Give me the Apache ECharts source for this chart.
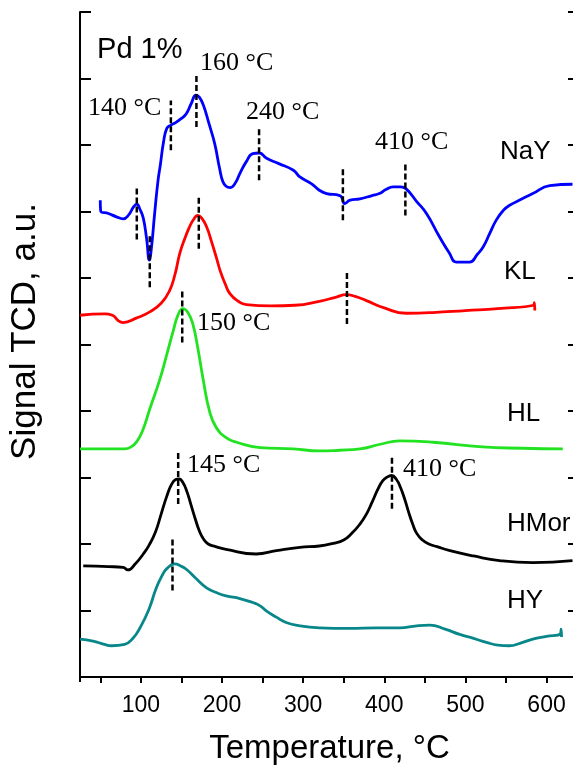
<!DOCTYPE html>
<html>
<head>
<meta charset="utf-8">
<script src="https://cdn.jsdelivr.net/npm/echarts@6/dist/echarts.min.js"></script>
<style>
  html, body { margin: 0; padding: 0; background: #fff; }
  #chart { width: 573px; height: 769px; }
</style>
</head>
<body>
<div id="chart"></div>
<script>
// TPR curves, [temperature °C, offset signal a.u.]
const nay = [[50, 7.17], [50.5, 7.01], [60, 6.97], [70, 6.92], [78, 6.89], [85, 6.95], [91, 7.07], [95, 7.11], [99, 7.03], [103, 6.9], [107, 6.6], [110.5, 6.27], [113, 6.45], [117, 6.97], [121, 7.45], [124, 7.7], [128, 8.05], [132, 8.25], [137, 8.3], [142, 8.33], [150, 8.4], [156, 8.47], [162, 8.62], [168, 8.75], [172, 8.72], [177, 8.6], [184, 8.32], [191, 8.02], [197, 7.65], [201, 7.45], [205, 7.38], [210, 7.36], [216, 7.42], [222, 7.57], [230, 7.75], [238, 7.87], [246, 7.88], [255, 7.8], [270, 7.72], [288, 7.62], [296, 7.52], [310, 7.42], [320, 7.32], [329, 7.27], [345, 7.24], [348, 7.2], [351, 7.12], [358, 7.17], [370, 7.19], [385, 7.24], [394, 7.27], [402, 7.33], [411, 7.37], [420, 7.37], [427, 7.34], [440, 7.15], [452, 6.97], [468, 6.62], [480, 6.38], [489, 6.24], [505, 6.24], [515, 6.36], [522, 6.47], [530, 6.67], [538, 6.87], [547, 7.02], [554, 7.09], [570, 7.19], [583, 7.27], [604, 7.39], [632, 7.41]]
const kl = [[25, 5.44], [55, 5.46], [65, 5.44], [72, 5.36], [78, 5.33], [95, 5.4], [111, 5.49], [125, 5.62], [135, 5.8], [142, 6.05], [148, 6.37], [155, 6.62], [160, 6.77], [165, 6.88], [170, 6.94], [175, 6.9], [181, 6.77], [187, 6.55], [193, 6.31], [198, 6.1], [204, 5.91], [210, 5.76], [220, 5.65], [230, 5.6], [260, 5.58], [290, 5.59], [320, 5.65], [340, 5.71], [353, 5.75], [365, 5.72], [378, 5.66], [400, 5.55], [427, 5.47], [460, 5.48], [500, 5.51], [540, 5.54], [584, 5.59], [585, 5.63], [585.5, 5.51]]
const hl = [[25, 3.43], [60, 3.43], [80, 3.43], [88, 3.46], [95, 3.54], [102, 3.7], [111, 4.03], [123, 4.46], [132, 4.85], [140, 5.21], [146, 5.45], [152, 5.54], [158, 5.48], [164, 5.31], [170, 4.96], [177, 4.46], [185, 3.98], [193, 3.75], [205, 3.6], [218, 3.53], [247, 3.45], [288, 3.43], [320, 3.4], [345, 3.41], [370, 3.43], [395, 3.5], [419, 3.55], [460, 3.53], [521, 3.46], [570, 3.44], [620, 3.43]]
const hmor = [[29, 1.67], [60, 1.66], [78, 1.65], [84, 1.61], [93, 1.7], [103, 1.85], [110, 1.98], [118, 2.18], [125, 2.45], [132, 2.72], [138, 2.9], [143, 2.97], [147, 2.98], [152, 2.92], [157, 2.78], [162, 2.58], [167, 2.38], [172, 2.2], [177, 2.08], [183, 2.0], [192, 1.96], [205, 1.92], [242, 1.85], [267, 1.9], [296, 1.95], [320, 1.97], [337, 2.01], [350, 2.06], [360, 2.16], [370, 2.3], [378, 2.45], [385, 2.63], [392, 2.82], [398, 2.95], [404, 3.01], [409, 3.03], [415, 2.97], [420, 2.85], [425, 2.68], [430, 2.48], [435, 2.3], [440, 2.16], [447, 2.06], [455, 2.0], [465, 1.96], [481, 1.9], [510, 1.82], [542, 1.75], [583, 1.72], [632, 1.75]]
const hy = [[25, 0.57], [41, 0.54], [55, 0.49], [64, 0.47], [80, 0.49], [90, 0.58], [99, 0.74], [110, 1.02], [119, 1.34], [126, 1.52], [132, 1.63], [142, 1.7], [149, 1.67], [156, 1.62], [168, 1.48], [181, 1.34], [193, 1.27], [205, 1.22], [222, 1.18], [238, 1.12], [247, 1.07], [255, 0.99], [267, 0.9], [279, 0.82], [296, 0.77], [320, 0.74], [357, 0.73], [390, 0.74], [419, 0.74], [440, 0.77], [456, 0.78], [475, 0.72], [493, 0.64], [510, 0.58], [526, 0.52], [540, 0.48], [554, 0.47], [568, 0.51], [583, 0.57], [600, 0.61], [617, 0.65], [618, 0.72], [618.5, 0.6]]

// dashed peak markers: [temperature, bottom, top]
const peakMarks = [[137, 7.92, 8.67], [168.5, 8.27, 9.05], [245.7, 7.47, 8.25], [95, 6.58, 7.36], [111, 5.86, 6.64], [171.4, 6.44, 7.21], [349, 6.87, 7.67], [426, 6.94, 7.73], [354, 5.31, 6.1], [151, 5.03, 5.82], [146, 2.6, 3.38], [409.5, 2.53, 3.33], [139, 1.3, 2.1]]

// peak temperature labels: [text, temperature, level]
const peakTexts = [['140 °C', 35, 8.55], ['160 °C', 173, 9.23], ['240 °C', 229.6, 8.49], ['410 °C', 388.6, 8.04], ['150 °C', 169.2, 5.32], ['145 °C', 156.9, 3.18], ['410 °C', 423.1, 3.13]]
// sample names
const sampleNames = [['NaY', 542.6, 7.89], ['KL', 547.5, 6.1], ['HL', 551.2, 3.96], ['HMor', 551.2, 2.3], ['HY', 551.2, 1.14]]
const titleText = [['Pd 1%', 46, 9.43]]

const curves = [
  { name: 'NaY', data: nay, color: '#0000ff' },
  { name: 'KL', data: kl, color: '#ff0000' },
  { name: 'HL', data: hl, color: '#22e322' },
  { name: 'HMor', data: hmor, color: '#000000' },
  { name: 'HY', data: hy, color: '#08878a' }
]

const chart = echarts.init(document.getElementById('chart'))

const series = []
curves.forEach(function(c) {
  series.push({
    name: c.name,
    type: 'line',
    data: c.data,
    smooth: 0.5,
    symbol: 'none',
    lineStyle: { color: c.color, width: 2.8 },
    z: 2
  })
})
peakMarks.forEach(function(m) {
  series.push({
    type: 'line',
    data: [[m[0], m[1]], [m[0], m[2]]],
    symbol: 'none',
    lineStyle: { color: '#000', width: 2.5, type: [6, 3] },
    z: 3
  })
})
function textSeries(items, family, size) {
  return {
    type: 'scatter',
    symbolSize: 0,
    itemStyle: { opacity: 1 },
    data: items.map(function(t) { return { value: [t[1], t[2]], name: t[0] } }),
    label: {
      show: true,
      position: 'right',
      distance: 0,
      formatter: '{b}',
      fontFamily: family,
      fontSize: size,
      color: '#000'
    },
    z: 4
  }
}
series.push(textSeries(peakTexts, 'Liberation Serif', 26))
series.push(textSeries(sampleNames, 'Liberation Sans', 26))
series.push(textSeries(titleText, 'Liberation Sans', 29))

const xCommon = {
  type: 'value',
  min: 25,
  max: 640,
  splitNumber: 12,
  splitLine: { show: false },
  axisLine: { lineStyle: { color: '#000', width: 2 } }
}
const yCommon = {
  type: 'value',
  min: 0,
  max: 10,
  interval: 1,
  splitLine: { show: false },
  axisLabel: { show: false },
  axisLine: { lineStyle: { color: '#000', width: 2 } },
  axisTick: { inside: true, length: 11, lineStyle: { color: '#000', width: 2 } }
}

chart.setOption({
  animation: false,
  backgroundColor: '#fff',
  grid: { left: 80, top: 12, width: 499, height: 665, outerBoundsMode: 'none' },
  xAxis: [
    Object.assign({}, xCommon, {
      position: 'bottom',
      name: 'Temperature, °C',
      nameLocation: 'middle',
      nameGap: 55,
      nameTextStyle: { fontFamily: 'Liberation Sans', fontSize: 33, color: '#000' },
      axisTick: { inside: false, length: 6, lineStyle: { color: '#000', width: 2 } },
      axisLabel: {
        margin: 17,
        fontFamily: 'Liberation Sans',
        fontSize: 23,
        color: '#000',
        showMinLabel: false,
        showMaxLabel: false,
        formatter: function(v) { return v % 100 === 0 ? String(v) : '' }
      }
    }),
    Object.assign({}, xCommon, {
      position: 'top',
      axisTick: { inside: true, length: 5, lineStyle: { color: '#000', width: 2 } },
      axisLabel: { show: false }
    })
  ],
  yAxis: [
    Object.assign({}, yCommon, {
      position: 'left',
      name: 'Signal TCD, a.u.',
      nameLocation: 'middle',
      nameGap: 37,
      nameTextStyle: { fontFamily: 'Liberation Sans', fontSize: 35, color: '#000', padding: [0, 0, 0, 26] }
    }),
    Object.assign({}, yCommon, { position: 'right' })
  ],
  series: series
})
</script>
</body>
</html>
